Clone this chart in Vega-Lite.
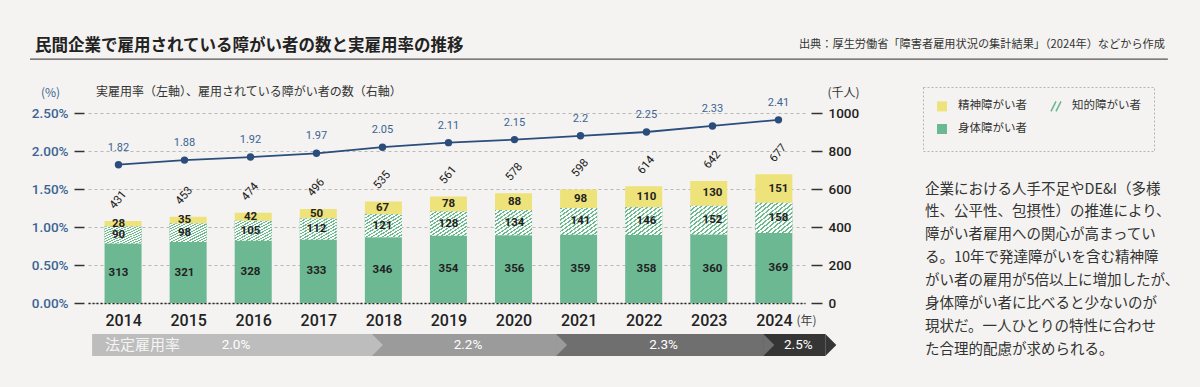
{
  "$schema": "https://vega.github.io/schema/vega-lite/v6.json",
  "width": 717,
  "height": 190,
  "autosize": {"type": "none"},
  "padding": {"left": 88, "top": 113, "right": 395, "bottom": 84},
  "background": "#f4f3f1",
  "config": {"view": {"stroke": null}},
  "title": {
    "text": "民間企業で雇用されている障がい者の数と実雇用率の推移",
    "anchor": "start",
    "frame": "group",
    "orient": "top",
    "dx": -53,
    "dy": 46,
    "offset": 30,
    "font": "Noto Sans CJK JP",
    "fontSize": 16.5,
    "fontWeight": "bold",
    "color": "#222222"
  },
  "datasets": {
    "segments": [
      {"year": 2014, "category": "身体障がい者", "order": 1, "value": 313},
      {"year": 2014, "category": "知的障がい者", "order": 2, "value": 90},
      {"year": 2014, "category": "精神障がい者", "order": 3, "value": 28},
      {"year": 2015, "category": "身体障がい者", "order": 1, "value": 321},
      {"year": 2015, "category": "知的障がい者", "order": 2, "value": 98},
      {"year": 2015, "category": "精神障がい者", "order": 3, "value": 35},
      {"year": 2016, "category": "身体障がい者", "order": 1, "value": 328},
      {"year": 2016, "category": "知的障がい者", "order": 2, "value": 105},
      {"year": 2016, "category": "精神障がい者", "order": 3, "value": 42},
      {"year": 2017, "category": "身体障がい者", "order": 1, "value": 333},
      {"year": 2017, "category": "知的障がい者", "order": 2, "value": 112},
      {"year": 2017, "category": "精神障がい者", "order": 3, "value": 50},
      {"year": 2018, "category": "身体障がい者", "order": 1, "value": 346},
      {"year": 2018, "category": "知的障がい者", "order": 2, "value": 121},
      {"year": 2018, "category": "精神障がい者", "order": 3, "value": 67},
      {"year": 2019, "category": "身体障がい者", "order": 1, "value": 354},
      {"year": 2019, "category": "知的障がい者", "order": 2, "value": 128},
      {"year": 2019, "category": "精神障がい者", "order": 3, "value": 78},
      {"year": 2020, "category": "身体障がい者", "order": 1, "value": 356},
      {"year": 2020, "category": "知的障がい者", "order": 2, "value": 134},
      {"year": 2020, "category": "精神障がい者", "order": 3, "value": 88},
      {"year": 2021, "category": "身体障がい者", "order": 1, "value": 359},
      {"year": 2021, "category": "知的障がい者", "order": 2, "value": 141},
      {"year": 2021, "category": "精神障がい者", "order": 3, "value": 98},
      {"year": 2022, "category": "身体障がい者", "order": 1, "value": 358},
      {"year": 2022, "category": "知的障がい者", "order": 2, "value": 146},
      {"year": 2022, "category": "精神障がい者", "order": 3, "value": 110},
      {"year": 2023, "category": "身体障がい者", "order": 1, "value": 360},
      {"year": 2023, "category": "知的障がい者", "order": 2, "value": 152},
      {"year": 2023, "category": "精神障がい者", "order": 3, "value": 130},
      {"year": 2024, "category": "身体障がい者", "order": 1, "value": 369},
      {"year": 2024, "category": "知的障がい者", "order": 2, "value": 158},
      {"year": 2024, "category": "精神障がい者", "order": 3, "value": 151}
    ],
    "years": [
      {"year": 2014, "rate": 1.82, "total": 431},
      {"year": 2015, "rate": 1.88, "total": 453},
      {"year": 2016, "rate": 1.92, "total": 474},
      {"year": 2017, "rate": 1.97, "total": 496},
      {"year": 2018, "rate": 2.05, "total": 535},
      {"year": 2019, "rate": 2.11, "total": 561},
      {"year": 2020, "rate": 2.15, "total": 578},
      {"year": 2021, "rate": 2.2, "total": 598},
      {"year": 2022, "rate": 2.25, "total": 614},
      {"year": 2023, "rate": 2.33, "total": 642},
      {"year": 2024, "rate": 2.41, "total": 677}
    ],
    "band": [
      {"rate": "2.0%", "start": 2013.6, "end": 2017.84},
      {"rate": "2.2%", "start": 2017.84, "end": 2020.63},
      {"rate": "2.3%", "start": 2020.63, "end": 2023.77},
      {"rate": "2.5%", "start": 2023.77, "end": 2024.71}
    ]
  },
  "layer": [
    {
      "layer": [
        {
          "data": {"name": "segments"},
          "transform": [
            {"stack": "value", "groupby": ["year"], "sort": [{"field": "order", "order": "ascending"}], "as": ["v0", "v1"]}
          ],
          "layer": [
            {
              "mark": {"type": "bar", "width": 37},
              "encoding": {
                "x": {
                  "field": "year", "type": "quantitative",
                  "scale": {"domain": [2013.538, 2024.402], "nice": false, "zero": false},
                  "axis": {
                    "values": [2014, 2015, 2016, 2017, 2018, 2019, 2020, 2021, 2022, 2023, 2024],
                    "format": "d",
                    "grid": false,
                    "ticks": false,
                    "labelFlush": false,
                    "labelOverlap": false,
                    "domain": true,
                    "domainColor": "#222222",
                    "domainDash": [2, 2],
                    "domainWidth": 1.5,
                    "labelPadding": 9,
                    "labelFont": "Roboto",
                    "labelFontSize": 16,
                    "labelFontWeight": 500,
                    "labelColor": "#222222",
                    "title": "(年)",
                    "titleX": 718,
                    "titleY": 17,
                    "titleAlign": "center",
                    "titleBaseline": "middle",
                    "titleFont": "Noto Sans CJK JP",
                    "titleFontSize": 12,
                    "titleFontWeight": "normal",
                    "titleColor": "#444444"
                  }
                },
                "y": {
                  "field": "v0", "type": "quantitative",
                  "scale": {"domain": [0, 1000], "nice": false, "zero": false},
                  "axis": {
                    "orient": "right",
                    "values": [0, 200, 400, 600, 800, 1000],
                    "format": "d",
                    "labelOverlap": false,
                    "grid": false,
                    "domain": false,
                    "ticks": true,
                    "tickSize": 11,
                    "tickWidth": 1.5,
                    "tickColor": "#333333",
                    "offset": 6,
                    "labelPadding": 6,
                    "labelFont": "Roboto",
                    "labelFontSize": 13.5,
                    "labelFontWeight": 500,
                    "labelColor": "#222222",
                    "title": "(千人)",
                    "titleAngle": 0,
                    "titleX": 32,
                    "titleY": -21,
                    "titleAlign": "center",
                    "titleBaseline": "middle",
                    "titleFont": "Noto Sans CJK JP",
                    "titleFontSize": 12,
                    "titleFontWeight": "normal",
                    "titleColor": "#333333"
                  }
                },
                "y2": {"field": "v1"},
                "color": {
                  "field": "category", "type": "nominal",
                  "scale": {
                    "domain": ["精神障がい者", "知的障がい者", "身体障がい者"],
                    "range": ["#eee27a", "#6cb893", "#6cb893"]
                  },
                  "legend": {
                    "orient": "none",
                    "legendX": 835,
                    "legendY": -26,
                    "direction": "horizontal",
                    "columns": 2,
                    "title": null,
                    "symbolType": "square",
                    "symbolSize": 100,
                    "symbolStrokeWidth": 0,
                    "labelFont": "Noto Sans CJK JP",
                    "labelFontSize": 11.5,
                    "labelColor": "#333333",
                    "labelOffset": 10,
                    "columnPadding": 20,
                    "rowPadding": 5,
                    "padding": 13,
                    "encode": {
                      "legend": {
                        "update": {
                          "stroke": {"value": "#b5b5b5"},
                          "strokeDash": {"value": [2, 2]},
                          "strokeWidth": {"value": 1}
                        }
                      },
                      "symbols": {
                        "update": {
                          "shape": {"signal": "datum.label === '知的障がい者' ? 'M-1,1L0,-1M0,1L1,-1' : 'square'"},
                          "fill": {"signal": "datum.label === '知的障がい者' ? 'transparent' : scale('color', datum.value)"},
                          "stroke": {"signal": "datum.label === '知的障がい者' ? '#6cb893' : 'transparent'"},
                          "strokeWidth": {"value": 1.6}
                        }
                      }
                    }
                  }
                }
              }
            },
            {
              "transform": [{"filter": "datum.category === '知的障がい者'"}],
              "mark": {
                "type": "bar", "width": 37, "strokeWidth": 0,
                "fill": {
                  "gradient": "linear", "x1": 0, "y1": 0, "x2": 1, "y2": 1,
                  "stops": [
                    {"offset": 0, "color": "#6cb893"}, {"offset": 0.02857, "color": "#6cb893"}, {"offset": 0.02857, "color": "#fafaf7"}, {"offset": 0.07143, "color": "#fafaf7"},
                    {"offset": 0.07143, "color": "#6cb893"}, {"offset": 0.1, "color": "#6cb893"}, {"offset": 0.1, "color": "#fafaf7"}, {"offset": 0.14286, "color": "#fafaf7"},
                    {"offset": 0.14286, "color": "#6cb893"}, {"offset": 0.17143, "color": "#6cb893"}, {"offset": 0.17143, "color": "#fafaf7"}, {"offset": 0.21429, "color": "#fafaf7"},
                    {"offset": 0.21429, "color": "#6cb893"}, {"offset": 0.24286, "color": "#6cb893"}, {"offset": 0.24286, "color": "#fafaf7"}, {"offset": 0.28571, "color": "#fafaf7"},
                    {"offset": 0.28571, "color": "#6cb893"}, {"offset": 0.31429, "color": "#6cb893"}, {"offset": 0.31429, "color": "#fafaf7"}, {"offset": 0.35714, "color": "#fafaf7"},
                    {"offset": 0.35714, "color": "#6cb893"}, {"offset": 0.38571, "color": "#6cb893"}, {"offset": 0.38571, "color": "#fafaf7"}, {"offset": 0.42857, "color": "#fafaf7"},
                    {"offset": 0.42857, "color": "#6cb893"}, {"offset": 0.45714, "color": "#6cb893"}, {"offset": 0.45714, "color": "#fafaf7"}, {"offset": 0.5, "color": "#fafaf7"},
                    {"offset": 0.5, "color": "#6cb893"}, {"offset": 0.52857, "color": "#6cb893"}, {"offset": 0.52857, "color": "#fafaf7"}, {"offset": 0.57143, "color": "#fafaf7"},
                    {"offset": 0.57143, "color": "#6cb893"}, {"offset": 0.6, "color": "#6cb893"}, {"offset": 0.6, "color": "#fafaf7"}, {"offset": 0.64286, "color": "#fafaf7"},
                    {"offset": 0.64286, "color": "#6cb893"}, {"offset": 0.67143, "color": "#6cb893"}, {"offset": 0.67143, "color": "#fafaf7"}, {"offset": 0.71429, "color": "#fafaf7"},
                    {"offset": 0.71429, "color": "#6cb893"}, {"offset": 0.74286, "color": "#6cb893"}, {"offset": 0.74286, "color": "#fafaf7"}, {"offset": 0.78571, "color": "#fafaf7"},
                    {"offset": 0.78571, "color": "#6cb893"}, {"offset": 0.81429, "color": "#6cb893"}, {"offset": 0.81429, "color": "#fafaf7"}, {"offset": 0.85714, "color": "#fafaf7"},
                    {"offset": 0.85714, "color": "#6cb893"}, {"offset": 0.88571, "color": "#6cb893"}, {"offset": 0.88571, "color": "#fafaf7"}, {"offset": 0.92857, "color": "#fafaf7"},
                    {"offset": 0.92857, "color": "#6cb893"}, {"offset": 0.95714, "color": "#6cb893"}, {"offset": 0.95714, "color": "#fafaf7"}, {"offset": 1, "color": "#fafaf7"}
                  ]
                }
              },
              "encoding": {
                "x": {"field": "year", "type": "quantitative", "scale": {"domain": [2013.538, 2024.402], "nice": false, "zero": false}, "axis": null},
                "y": {"field": "v0", "type": "quantitative", "scale": {"domain": [0, 1000], "nice": false, "zero": false}, "axis": null},
                "y2": {"field": "v1"}
              }
            },
            {
              "transform": [
                {"fold": ["v0", "v1"], "as": ["edge", "pos"]},
                {"aggregate": [{"op": "mean", "field": "pos", "as": "mid"}], "groupby": ["year", "category", "value"]}
              ],
              "mark": {
                "type": "text", "baseline": "middle", "align": "center",
                "font": "Roboto", "fontSize": 11.5, "fontWeight": "bold", "color": "#222222"
              },
              "encoding": {
                "x": {"field": "year", "type": "quantitative", "scale": {"domain": [2013.538, 2024.402], "nice": false, "zero": false}, "axis": null},
                "y": {"field": "mid", "type": "quantitative", "scale": {"domain": [0, 1000], "nice": false, "zero": false}, "axis": null},
                "text": {"field": "value", "type": "quantitative"}
              }
            }
          ],
          "resolve": {"scale": {"x": "independent", "y": "independent"}}
        },
        {
          "data": {"name": "years"},
          "mark": {
            "type": "text", "angle": -50, "yOffset": -21, "baseline": "middle", "align": "center",
            "font": "Roboto", "fontSize": 11.5, "color": "#222222"
          },
          "encoding": {
            "x": {"field": "year", "type": "quantitative", "scale": {"domain": [2013.538, 2024.402], "nice": false, "zero": false}, "axis": null},
            "y": {"field": "total", "type": "quantitative", "scale": {"domain": [0, 1000], "nice": false, "zero": false}, "axis": null},
            "text": {"field": "total", "type": "quantitative"}
          }
        },
        {
          "data": {"name": "band"},
          "mark": {"type": "bar", "strokeWidth": 0},
          "encoding": {
            "x": {"field": "start", "type": "quantitative", "scale": {"domain": [2013.538, 2024.402], "nice": false, "zero": false}, "axis": null},
            "x2": {"field": "end"},
            "y": {"datum": -163, "type": "quantitative", "scale": {"domain": [0, 1000], "nice": false, "zero": false}, "axis": null},
            "y2": {"datum": -279},
            "fill": {
              "field": "rate", "type": "nominal",
              "scale": {"domain": ["2.0%", "2.2%", "2.3%", "2.5%"], "range": ["#bdbdbd", "#9b9b9b", "#6f6f6f", "#353535"]},
              "legend": null
            }
          }
        },
        {
          "data": {"name": "band"},
          "mark": {"type": "point", "shape": "M0,-1L1,0L0,1Z", "size": 484, "filled": true, "opacity": 1, "strokeWidth": 0},
          "encoding": {
            "x": {"field": "end", "type": "quantitative", "scale": {"domain": [2013.538, 2024.402], "nice": false, "zero": false}, "axis": null},
            "y": {"datum": -221, "type": "quantitative", "scale": {"domain": [0, 1000], "nice": false, "zero": false}, "axis": null},
            "fill": {"field": "rate", "type": "nominal", "legend": null}
          }
        },
        {
          "data": {"name": "band"},
          "transform": [
            {"fold": ["start", "end"], "as": ["edge", "xpos"]},
            {"aggregate": [{"op": "mean", "field": "xpos", "as": "mid"}], "groupby": ["rate"]}
          ],
          "mark": {
            "type": "text", "dx": 4, "baseline": "middle", "align": "center",
            "font": "Roboto", "fontSize": 13.5, "color": "#ffffff"
          },
          "encoding": {
            "x": {"field": "mid", "type": "quantitative", "scale": {"domain": [2013.538, 2024.402], "nice": false, "zero": false}, "axis": null},
            "y": {"datum": -221, "type": "quantitative", "scale": {"domain": [0, 1000], "nice": false, "zero": false}, "axis": null},
            "text": {"field": "rate", "type": "nominal"}
          }
        },
        {
          "data": {"values": [{"label": "法定雇用率"}]},
          "mark": {"type": "text", "dx": 13, "align": "left", "baseline": "middle", "font": "Noto Sans CJK JP", "fontSize": 15, "color": "#f4f4f4"},
          "encoding": {
            "x": {"datum": 2013.6, "type": "quantitative", "scale": {"domain": [2013.538, 2024.402], "nice": false, "zero": false}, "axis": null},
            "y": {"datum": -221, "type": "quantitative", "scale": {"domain": [0, 1000], "nice": false, "zero": false}, "axis": null},
            "text": {"field": "label", "type": "nominal"}
          }
        },
        {
          "data": {"values": [{"label": "出典：厚生労働省「障害者雇用状況の集計結果」（2024年）などから作成"}]},
          "mark": {"type": "text", "align": "right", "baseline": "middle", "font": "Noto Sans CJK JP", "fontSize": 11.2, "color": "#333333"},
          "encoding": {
            "x": {"datum": 2029.856, "type": "quantitative", "scale": {"domain": [2013.538, 2024.402], "nice": false, "zero": false}, "axis": null},
            "y": {"datum": 1358, "type": "quantitative", "scale": {"domain": [0, 1000], "nice": false, "zero": false}, "axis": null},
            "text": {"field": "label", "type": "nominal"}
          }
        },
        {
          "data": {"values": [{"label": "separator"}]},
          "mark": {"type": "rule", "color": "#555555", "strokeWidth": 1.2},
          "encoding": {
            "x": {"datum": 2012.659, "type": "quantitative", "scale": {"domain": [2013.538, 2024.402], "nice": false, "zero": false}, "axis": null},
            "x2": {"datum": 2029.9},
            "y": {"datum": 1284, "type": "quantitative", "scale": {"domain": [0, 1000], "nice": false, "zero": false}, "axis": null}
          }
        },
        {
          "data": {"values": [{"label": "実雇用率（左軸）、雇用されている障がい者の数（右軸）"}]},
          "mark": {"type": "text", "align": "left", "baseline": "middle", "font": "Noto Sans CJK JP", "fontSize": 12, "color": "#333333"},
          "encoding": {
            "x": {"datum": 2013.659, "type": "quantitative", "scale": {"domain": [2013.538, 2024.402], "nice": false, "zero": false}, "axis": null},
            "y": {"datum": 1110, "type": "quantitative", "scale": {"domain": [0, 1000], "nice": false, "zero": false}, "axis": null},
            "text": {"field": "label", "type": "nominal"}
          }
        },
        {
          "data": {"values": [{"label": "企業における人手不足やDE&I（多様\n性、公平性、包摂性）の推進により、\n障がい者雇用への関心が高まってい\nる。10年で発達障がいを含む精神障\nがい者の雇用が5倍以上に増加したが、\n身体障がい者に比べると少ないのが\n現状だ。一人ひとりの特性に合わせ\nた合理的配慮が求められる。"}]},
          "mark": {"type": "text", "align": "left", "baseline": "top", "lineBreak": "\n", "lineHeight": 22.9, "font": "Noto Sans CJK JP", "fontSize": 14.5, "color": "#333333"},
          "encoding": {
            "x": {"datum": 2026.22, "type": "quantitative", "scale": {"domain": [2013.538, 2024.402], "nice": false, "zero": false}, "axis": null},
            "y": {"datum": 634, "type": "quantitative", "scale": {"domain": [0, 1000], "nice": false, "zero": false}, "axis": null},
            "text": {"field": "label", "type": "nominal"}
          }
        }
      ],
      "resolve": {"scale": {"x": "independent", "y": "independent"}}
    },
    {
      "data": {"name": "years"},
      "encoding": {
        "x": {"field": "year", "type": "quantitative", "scale": {"domain": [2013.538, 2024.402], "nice": false, "zero": false}, "axis": null},
        "y": {
          "field": "rate", "type": "quantitative",
          "scale": {"domain": [0, 2.5], "nice": false, "zero": false},
          "axis": {
            "orient": "left",
            "values": [0, 0.5, 1, 1.5, 2, 2.5],
            "labelExpr": "format(datum.value, '.2f') + '%'",
            "labelOverlap": false,
            "grid": true,
            "gridDash": [3, 3],
            "gridColor": "#b8b8b8",
            "gridWidth": 1,
            "domain": false,
            "ticks": true,
            "tickSize": 10,
            "tickWidth": 1.5,
            "tickColor": "#333333",
            "offset": 4,
            "labelPadding": 6,
            "labelFont": "Roboto",
            "labelFontSize": 13.5,
            "labelFontWeight": 500,
            "labelColor": "#3b6494",
            "title": "(%)",
            "titleAngle": 0,
            "titleX": -34,
            "titleY": -21,
            "titleAlign": "center",
            "titleBaseline": "middle",
            "titleFont": "Noto Sans CJK JP",
            "titleFontSize": 12,
            "titleFontWeight": "normal",
            "titleColor": "#3b6494"
          }
        }
      },
      "layer": [
        {"mark": {"type": "line", "color": "#2a4d7c", "strokeWidth": 1.8}},
        {"mark": {"type": "point", "filled": true, "size": 55, "opacity": 1, "color": "#2a4d7c"}},
        {
          "mark": {
            "type": "text", "yOffset": -17, "baseline": "middle", "align": "center",
            "font": "Roboto", "fontSize": 11, "color": "#3b6494"
          },
          "encoding": {"text": {"field": "rate", "type": "quantitative"}}
        }
      ]
    }
  ],
  "resolve": {"scale": {"x": "independent", "y": "independent"}}
}
